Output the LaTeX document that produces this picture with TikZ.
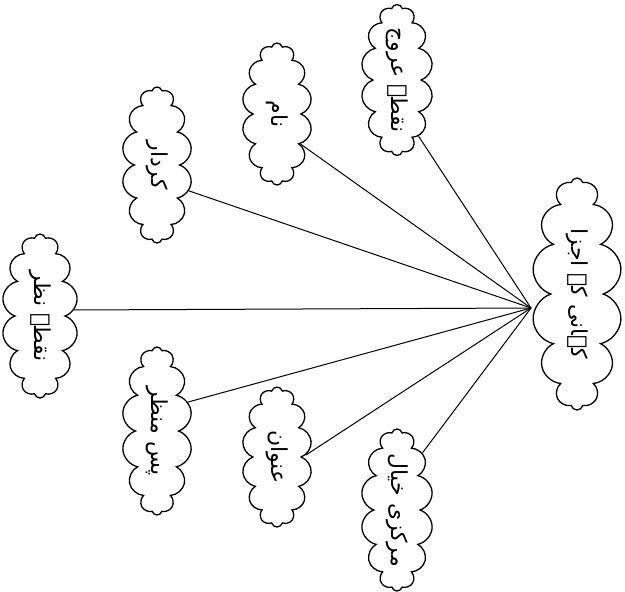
\documentclass[tikz,border=0pt]{standalone}
\usepackage{fontspec}
\usepackage{graphicx}
\usetikzlibrary{shapes.symbols}
\TeXXeTstate=1
\newfontfamily\urdu[Script=Arabic]{DejaVu Sans}
\newcommand{\ur}[1]{\rotatebox{-90}{\urdu\fontsize{11}{13}\selectfont\beginR #1\endR}}
\tikzset{
  puff/.style={cloud, cloud puffs=14, cloud ignores aspect, draw, line width=0.65pt,
    inner sep=0pt, fill=white},
  link/.style={line width=0.5pt}
}
\begin{document}
\begin{tikzpicture}[x=0.5pt, y=-0.5pt]
\useasboundingbox (0,0) rectangle (625,591);
\node[puff, minimum width=45pt, minimum height=116pt] (c0) at (577,294) {\ur{کہانی کے اجزا}};
\node[puff, minimum width=36pt, minimum height=75pt] (c1) at (397,80) {\ur{نقطۂ عروج}};
\node[puff, minimum width=35pt, minimum height=71pt] (c2) at (277,114) {\ur{نام}};
\node[puff, minimum width=35pt, minimum height=78pt] (c3) at (157,165) {\ur{کردار}};
\node[puff, minimum width=38pt, minimum height=82pt] (c4) at (40,316) {\ur{نقطۂ نظر}};
\node[puff, minimum width=35pt, minimum height=84pt] (c5) at (157,431) {\ur{پس منظر}};
\node[puff, minimum width=35pt, minimum height=70pt] (c6) at (277,457) {\ur{عنوان}};
\node[puff, minimum width=36pt, minimum height=78pt] (c7) at (397,510) {\ur{مرکزی خیال}};
\coordinate (hub) at (531,308);
\draw[link] (hub) -- (c1.-69);
\draw[link] (hub) -- (c2.-52);
\draw[link] (hub) -- (c3.-39);
\draw[link] (hub) -- (c4.10);
\draw[link] (hub) -- (c5.43);
\draw[link] (hub) -- (c6.4);
\draw[link] (hub) -- (c7.66);
\end{tikzpicture}
\end{document}
